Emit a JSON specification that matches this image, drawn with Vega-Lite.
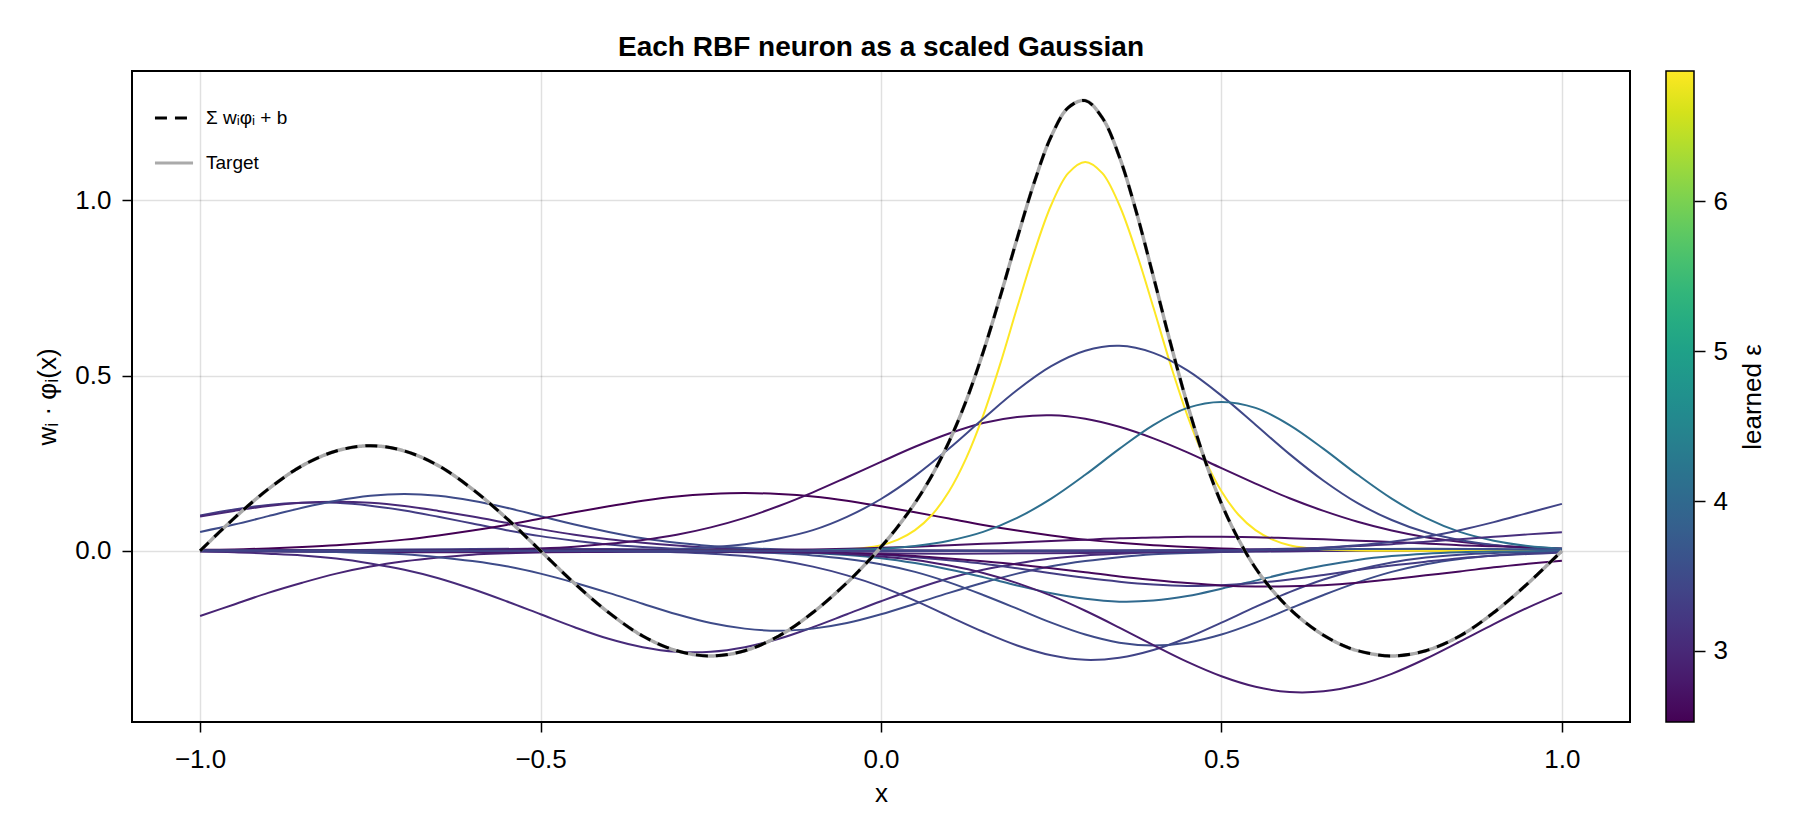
{
"$schema": "https://vega.github.io/schema/vega-lite/v6.json",
"autosize": "none",
"width": 1498,
"height": 651,
"padding": {"left": 132, "top": 71, "right": 170, "bottom": 118},
"background": "white",
"title": {"text": "Each RBF neuron as a scaled Gaussian", "fontSize": 28, "fontWeight": "bold", "anchor": "middle", "frame": "group", "offset": 14, "dy": 27, "baseline": "alphabetic", "color": "black"},
"config": {
"font": "Liberation Sans",
"view": {"stroke": "black", "strokeWidth": 2},
"axis": {"domain": false, "tickColor": "black", "tickSize": 10, "tickWidth": 1.5, "labelFontSize": 26, "labelColor": "black", "titleFontSize": 26, "titleFontWeight": "normal", "titleColor": "black", "grid": true, "gridColor": "black", "gridOpacity": 0.12, "gridWidth": 1.5},
"axisX": {"labelPadding": 14, "titlePadding": 8},
"axisY": {"labelPadding": 11, "titlePadding": 14}
},
"datasets": {
"neurons": [
{"n":9,"e":2.95,"x":-1,"y":-0.186},{"n":9,"e":2.95,"x":-0.95,"y":-0.153},{"n":9,"e":2.95,"x":-0.9,"y":-0.12},{"n":9,"e":2.95,"x":-0.85,"y":-0.091},{"n":9,"e":2.95,"x":-0.8,"y":-0.065},{"n":9,"e":2.95,"x":-0.75,"y":-0.045},{"n":9,"e":2.95,"x":-0.7,"y":-0.03},{"n":9,"e":2.95,"x":-0.65,"y":-0.019},{"n":9,"e":2.95,"x":-0.6,"y":-0.011},{"n":9,"e":2.95,"x":-0.55,"y":-0.007},{"n":9,"e":2.95,"x":-0.5,"y":-0.004},{"n":9,"e":2.95,"x":-0.45,"y":-0.002},{"n":9,"e":2.95,"x":-0.4,"y":-0.001},{"n":9,"e":2.95,"x":-0.35,"y":0},{"n":9,"e":2.95,"x":1,"y":0},
{"n":8,"e":3.3,"x":-1,"y":0.101},{"n":8,"e":3.3,"x":-0.95,"y":0.118},{"n":8,"e":3.3,"x":-0.9,"y":0.131},{"n":8,"e":3.3,"x":-0.85,"y":0.137},{"n":8,"e":3.3,"x":-0.8,"y":0.137},{"n":8,"e":3.3,"x":-0.75,"y":0.129},{"n":8,"e":3.3,"x":-0.7,"y":0.115},{"n":8,"e":3.3,"x":-0.65,"y":0.097},{"n":8,"e":3.3,"x":-0.6,"y":0.078},{"n":8,"e":3.3,"x":-0.55,"y":0.059},{"n":8,"e":3.3,"x":-0.5,"y":0.042},{"n":8,"e":3.3,"x":-0.45,"y":0.029},{"n":8,"e":3.3,"x":-0.4,"y":0.018},{"n":8,"e":3.3,"x":-0.35,"y":0.011},{"n":8,"e":3.3,"x":-0.3,"y":0.006},{"n":8,"e":3.3,"x":-0.25,"y":0.004},{"n":8,"e":3.3,"x":-0.2,"y":0.002},{"n":8,"e":3.3,"x":-0.15,"y":0.001},{"n":8,"e":3.3,"x":-0.1,"y":0},{"n":8,"e":3.3,"x":1,"y":0},
{"n":7,"e":3.0,"x":-1,"y":0.098},{"n":7,"e":3.0,"x":-0.95,"y":0.114},{"n":7,"e":3.0,"x":-0.9,"y":0.128},{"n":7,"e":3.0,"x":-0.85,"y":0.137},{"n":7,"e":3.0,"x":-0.8,"y":0.14},{"n":7,"e":3.0,"x":-0.75,"y":0.137},{"n":7,"e":3.0,"x":-0.7,"y":0.128},{"n":7,"e":3.0,"x":-0.65,"y":0.114},{"n":7,"e":3.0,"x":-0.6,"y":0.098},{"n":7,"e":3.0,"x":-0.55,"y":0.08},{"n":7,"e":3.0,"x":-0.5,"y":0.062},{"n":7,"e":3.0,"x":-0.45,"y":0.046},{"n":7,"e":3.0,"x":-0.4,"y":0.033},{"n":7,"e":3.0,"x":-0.35,"y":0.023},{"n":7,"e":3.0,"x":-0.3,"y":0.015},{"n":7,"e":3.0,"x":-0.25,"y":0.009},{"n":7,"e":3.0,"x":-0.2,"y":0.005},{"n":7,"e":3.0,"x":-0.15,"y":0.003},{"n":7,"e":3.0,"x":-0.1,"y":0.002},{"n":7,"e":3.0,"x":-0.05,"y":0.001},{"n":7,"e":3.0,"x":0,"y":0},{"n":7,"e":3.0,"x":1,"y":0},
{"n":6,"e":3.5,"x":-1,"y":0.054},{"n":6,"e":3.5,"x":-0.95,"y":0.075},{"n":6,"e":3.5,"x":-0.9,"y":0.099},{"n":6,"e":3.5,"x":-0.85,"y":0.123},{"n":6,"e":3.5,"x":-0.8,"y":0.143},{"n":6,"e":3.5,"x":-0.75,"y":0.157},{"n":6,"e":3.5,"x":-0.7,"y":0.162},{"n":6,"e":3.5,"x":-0.65,"y":0.157},{"n":6,"e":3.5,"x":-0.6,"y":0.143},{"n":6,"e":3.5,"x":-0.55,"y":0.123},{"n":6,"e":3.5,"x":-0.5,"y":0.099},{"n":6,"e":3.5,"x":-0.45,"y":0.075},{"n":6,"e":3.5,"x":-0.4,"y":0.054},{"n":6,"e":3.5,"x":-0.35,"y":0.036},{"n":6,"e":3.5,"x":-0.3,"y":0.023},{"n":6,"e":3.5,"x":-0.25,"y":0.014},{"n":6,"e":3.5,"x":-0.2,"y":0.008},{"n":6,"e":3.5,"x":-0.15,"y":0.004},{"n":6,"e":3.5,"x":-0.1,"y":0.002},{"n":6,"e":3.5,"x":-0.05,"y":0.001},{"n":6,"e":3.5,"x":0,"y":0},{"n":6,"e":3.5,"x":1,"y":0},
{"n":24,"e":2.8,"x":-1,"y":-0.001},{"n":24,"e":2.8,"x":-0.9,"y":-0.002},{"n":24,"e":2.8,"x":-0.8,"y":-0.003},{"n":24,"e":2.8,"x":-0.7,"y":-0.004},{"n":24,"e":2.8,"x":-0.6,"y":-0.004},{"n":24,"e":2.8,"x":-0.5,"y":-0.004},{"n":24,"e":2.8,"x":-0.4,"y":-0.003},{"n":24,"e":2.8,"x":-0.3,"y":-0.002},{"n":24,"e":2.8,"x":-0.2,"y":-0.001},{"n":24,"e":2.8,"x":-0.1,"y":0},{"n":24,"e":2.8,"x":1,"y":0},
{"n":21,"e":3.3,"x":-1,"y":0},{"n":21,"e":3.3,"x":-0.9,"y":0.001},{"n":21,"e":3.3,"x":-0.8,"y":0.002},{"n":21,"e":3.3,"x":-0.7,"y":0.004},{"n":21,"e":3.3,"x":-0.6,"y":0.005},{"n":21,"e":3.3,"x":-0.5,"y":0.006},{"n":21,"e":3.3,"x":-0.4,"y":0.005},{"n":21,"e":3.3,"x":-0.3,"y":0.004},{"n":21,"e":3.3,"x":-0.2,"y":0.002},{"n":21,"e":3.3,"x":-0.1,"y":0.001},{"n":21,"e":3.3,"x":0,"y":0},{"n":21,"e":3.3,"x":1,"y":0},
{"n":10,"e":3.05,"x":-1,"y":-0.002},{"n":10,"e":3.05,"x":-0.95,"y":-0.004},{"n":10,"e":3.05,"x":-0.9,"y":-0.008},{"n":10,"e":3.05,"x":-0.85,"y":-0.013},{"n":10,"e":3.05,"x":-0.8,"y":-0.022},{"n":10,"e":3.05,"x":-0.75,"y":-0.036},{"n":10,"e":3.05,"x":-0.7,"y":-0.054},{"n":10,"e":3.05,"x":-0.65,"y":-0.078},{"n":10,"e":3.05,"x":-0.6,"y":-0.109},{"n":10,"e":3.05,"x":-0.55,"y":-0.144},{"n":10,"e":3.05,"x":-0.5,"y":-0.181},{"n":10,"e":3.05,"x":-0.45,"y":-0.218},{"n":10,"e":3.05,"x":-0.4,"y":-0.251},{"n":10,"e":3.05,"x":-0.35,"y":-0.275},{"n":10,"e":3.05,"x":-0.3,"y":-0.288},{"n":10,"e":3.05,"x":-0.25,"y":-0.288},{"n":10,"e":3.05,"x":-0.2,"y":-0.275},{"n":10,"e":3.05,"x":-0.15,"y":-0.251},{"n":10,"e":3.05,"x":-0.1,"y":-0.218},{"n":10,"e":3.05,"x":-0.05,"y":-0.181},{"n":10,"e":3.05,"x":0,"y":-0.144},{"n":10,"e":3.05,"x":0.05,"y":-0.109},{"n":10,"e":3.05,"x":0.1,"y":-0.078},{"n":10,"e":3.05,"x":0.15,"y":-0.054},{"n":10,"e":3.05,"x":0.2,"y":-0.036},{"n":10,"e":3.05,"x":0.25,"y":-0.022},{"n":10,"e":3.05,"x":0.3,"y":-0.013},{"n":10,"e":3.05,"x":0.35,"y":-0.008},{"n":10,"e":3.05,"x":0.4,"y":-0.004},{"n":10,"e":3.05,"x":0.45,"y":-0.002},{"n":10,"e":3.05,"x":0.5,"y":-0.001},{"n":10,"e":3.05,"x":0.55,"y":0},{"n":10,"e":3.05,"x":1,"y":0},
{"n":5,"e":2.526,"x":-1,"y":0.003},{"n":5,"e":2.526,"x":-0.95,"y":0.004},{"n":5,"e":2.526,"x":-0.9,"y":0.007},{"n":5,"e":2.526,"x":-0.85,"y":0.011},{"n":5,"e":2.526,"x":-0.8,"y":0.016},{"n":5,"e":2.526,"x":-0.75,"y":0.023},{"n":5,"e":2.526,"x":-0.7,"y":0.032},{"n":5,"e":2.526,"x":-0.65,"y":0.044},{"n":5,"e":2.526,"x":-0.6,"y":0.058},{"n":5,"e":2.526,"x":-0.55,"y":0.074},{"n":5,"e":2.526,"x":-0.5,"y":0.092},{"n":5,"e":2.526,"x":-0.45,"y":0.11},{"n":5,"e":2.526,"x":-0.4,"y":0.127},{"n":5,"e":2.526,"x":-0.35,"y":0.143},{"n":5,"e":2.526,"x":-0.3,"y":0.155},{"n":5,"e":2.526,"x":-0.25,"y":0.162},{"n":5,"e":2.526,"x":-0.2,"y":0.165},{"n":5,"e":2.526,"x":-0.15,"y":0.162},{"n":5,"e":2.526,"x":-0.1,"y":0.155},{"n":5,"e":2.526,"x":-0.05,"y":0.143},{"n":5,"e":2.526,"x":0,"y":0.127},{"n":5,"e":2.526,"x":0.05,"y":0.11},{"n":5,"e":2.526,"x":0.1,"y":0.092},{"n":5,"e":2.526,"x":0.15,"y":0.074},{"n":5,"e":2.526,"x":0.2,"y":0.058},{"n":5,"e":2.526,"x":0.25,"y":0.044},{"n":5,"e":2.526,"x":0.3,"y":0.032},{"n":5,"e":2.526,"x":0.35,"y":0.023},{"n":5,"e":2.526,"x":0.4,"y":0.016},{"n":5,"e":2.526,"x":0.45,"y":0.011},{"n":5,"e":2.526,"x":0.5,"y":0.007},{"n":5,"e":2.526,"x":0.55,"y":0.004},{"n":5,"e":2.526,"x":0.6,"y":0.003},{"n":5,"e":2.526,"x":0.65,"y":0.002},{"n":5,"e":2.526,"x":0.7,"y":0.001},{"n":5,"e":2.526,"x":0.75,"y":0},{"n":5,"e":2.526,"x":1,"y":0},
{"n":11,"e":3.5,"x":-1,"y":0},{"n":11,"e":3.5,"x":-0.9,"y":-0.001},{"n":11,"e":3.5,"x":-0.85,"y":-0.002},{"n":11,"e":3.5,"x":-0.8,"y":-0.003},{"n":11,"e":3.5,"x":-0.75,"y":-0.006},{"n":11,"e":3.5,"x":-0.7,"y":-0.01},{"n":11,"e":3.5,"x":-0.65,"y":-0.018},{"n":11,"e":3.5,"x":-0.6,"y":-0.029},{"n":11,"e":3.5,"x":-0.55,"y":-0.044},{"n":11,"e":3.5,"x":-0.5,"y":-0.065},{"n":11,"e":3.5,"x":-0.45,"y":-0.091},{"n":11,"e":3.5,"x":-0.4,"y":-0.12},{"n":11,"e":3.5,"x":-0.35,"y":-0.151},{"n":11,"e":3.5,"x":-0.3,"y":-0.181},{"n":11,"e":3.5,"x":-0.25,"y":-0.206},{"n":11,"e":3.5,"x":-0.2,"y":-0.222},{"n":11,"e":3.5,"x":-0.15,"y":-0.228},{"n":11,"e":3.5,"x":-0.1,"y":-0.222},{"n":11,"e":3.5,"x":-0.05,"y":-0.206},{"n":11,"e":3.5,"x":0,"y":-0.181},{"n":11,"e":3.5,"x":0.05,"y":-0.151},{"n":11,"e":3.5,"x":0.1,"y":-0.12},{"n":11,"e":3.5,"x":0.15,"y":-0.091},{"n":11,"e":3.5,"x":0.2,"y":-0.065},{"n":11,"e":3.5,"x":0.25,"y":-0.044},{"n":11,"e":3.5,"x":0.3,"y":-0.029},{"n":11,"e":3.5,"x":0.35,"y":-0.018},{"n":11,"e":3.5,"x":0.4,"y":-0.01},{"n":11,"e":3.5,"x":0.45,"y":-0.006},{"n":11,"e":3.5,"x":0.5,"y":-0.003},{"n":11,"e":3.5,"x":0.55,"y":-0.002},{"n":11,"e":3.5,"x":0.6,"y":-0.001},{"n":11,"e":3.5,"x":0.7,"y":0},{"n":11,"e":3.5,"x":1,"y":0},
{"n":22,"e":3.0,"x":-1,"y":0},{"n":22,"e":3.0,"x":-0.4,"y":-0.001},{"n":22,"e":3.0,"x":-0.3,"y":-0.002},{"n":22,"e":3.0,"x":-0.2,"y":-0.004},{"n":22,"e":3.0,"x":-0.1,"y":-0.006},{"n":22,"e":3.0,"x":0,"y":-0.007},{"n":22,"e":3.0,"x":0.1,"y":-0.008},{"n":22,"e":3.0,"x":0.2,"y":-0.007},{"n":22,"e":3.0,"x":0.3,"y":-0.006},{"n":22,"e":3.0,"x":0.4,"y":-0.004},{"n":22,"e":3.0,"x":0.5,"y":-0.002},{"n":22,"e":3.0,"x":0.6,"y":-0.001},{"n":22,"e":3.0,"x":0.7,"y":0},{"n":22,"e":3.0,"x":1,"y":0},
{"n":4,"e":2.7,"x":-1,"y":0},{"n":4,"e":2.7,"x":-0.8,"y":0},{"n":4,"e":2.7,"x":-0.7,"y":0.001},{"n":4,"e":2.7,"x":-0.65,"y":0.001},{"n":4,"e":2.7,"x":-0.6,"y":0.002},{"n":4,"e":2.7,"x":-0.55,"y":0.004},{"n":4,"e":2.7,"x":-0.5,"y":0.007},{"n":4,"e":2.7,"x":-0.45,"y":0.012},{"n":4,"e":2.7,"x":-0.4,"y":0.02},{"n":4,"e":2.7,"x":-0.35,"y":0.031},{"n":4,"e":2.7,"x":-0.3,"y":0.046},{"n":4,"e":2.7,"x":-0.25,"y":0.067},{"n":4,"e":2.7,"x":-0.2,"y":0.094},{"n":4,"e":2.7,"x":-0.15,"y":0.128},{"n":4,"e":2.7,"x":-0.1,"y":0.167},{"n":4,"e":2.7,"x":-0.05,"y":0.21},{"n":4,"e":2.7,"x":0,"y":0.254},{"n":4,"e":2.7,"x":0.05,"y":0.297},{"n":4,"e":2.7,"x":0.1,"y":0.335},{"n":4,"e":2.7,"x":0.15,"y":0.365},{"n":4,"e":2.7,"x":0.2,"y":0.382},{"n":4,"e":2.7,"x":0.25,"y":0.387},{"n":4,"e":2.7,"x":0.3,"y":0.377},{"n":4,"e":2.7,"x":0.35,"y":0.354},{"n":4,"e":2.7,"x":0.4,"y":0.321},{"n":4,"e":2.7,"x":0.45,"y":0.281},{"n":4,"e":2.7,"x":0.5,"y":0.236},{"n":4,"e":2.7,"x":0.55,"y":0.192},{"n":4,"e":2.7,"x":0.6,"y":0.15},{"n":4,"e":2.7,"x":0.65,"y":0.114},{"n":4,"e":2.7,"x":0.7,"y":0.083},{"n":4,"e":2.7,"x":0.75,"y":0.058},{"n":4,"e":2.7,"x":0.8,"y":0.039},{"n":4,"e":2.7,"x":0.85,"y":0.026},{"n":4,"e":2.7,"x":0.9,"y":0.016},{"n":4,"e":2.7,"x":0.95,"y":0.01},{"n":4,"e":2.7,"x":1,"y":0.006},
{"n":1,"e":6.871,"x":-1,"y":0},{"n":1,"e":6.871,"x":-0.15,"y":0},{"n":1,"e":6.871,"x":-0.1,"y":0.001},{"n":1,"e":6.871,"x":-0.05,"y":0.004},{"n":1,"e":6.871,"x":-0.025,"y":0.008},{"n":1,"e":6.871,"x":0,"y":0.016},{"n":1,"e":6.871,"x":0.025,"y":0.032},{"n":1,"e":6.871,"x":0.05,"y":0.059},{"n":1,"e":6.871,"x":0.075,"y":0.103},{"n":1,"e":6.871,"x":0.1,"y":0.17},{"n":1,"e":6.871,"x":0.125,"y":0.264},{"n":1,"e":6.871,"x":0.15,"y":0.386},{"n":1,"e":6.871,"x":0.175,"y":0.533},{"n":1,"e":6.871,"x":0.2,"y":0.695},{"n":1,"e":6.871,"x":0.225,"y":0.852},{"n":1,"e":6.871,"x":0.25,"y":0.987},{"n":1,"e":6.871,"x":0.275,"y":1.078},{"n":1,"e":6.871,"x":0.3,"y":1.11},{"n":1,"e":6.871,"x":0.325,"y":1.078},{"n":1,"e":6.871,"x":0.35,"y":0.987},{"n":1,"e":6.871,"x":0.375,"y":0.852},{"n":1,"e":6.871,"x":0.4,"y":0.695},{"n":1,"e":6.871,"x":0.425,"y":0.533},{"n":1,"e":6.871,"x":0.45,"y":0.386},{"n":1,"e":6.871,"x":0.475,"y":0.264},{"n":1,"e":6.871,"x":0.5,"y":0.17},{"n":1,"e":6.871,"x":0.525,"y":0.103},{"n":1,"e":6.871,"x":0.55,"y":0.059},{"n":1,"e":6.871,"x":0.575,"y":0.032},{"n":1,"e":6.871,"x":0.6,"y":0.016},{"n":1,"e":6.871,"x":0.625,"y":0.008},{"n":1,"e":6.871,"x":0.65,"y":0.004},{"n":1,"e":6.871,"x":0.7,"y":0.001},{"n":1,"e":6.871,"x":0.75,"y":0},{"n":1,"e":6.871,"x":1,"y":0},
{"n":13,"e":3.4,"x":-1,"y":0},{"n":13,"e":3.4,"x":-0.45,"y":0},{"n":13,"e":3.4,"x":-0.4,"y":-0.001},{"n":13,"e":3.4,"x":-0.35,"y":-0.002},{"n":13,"e":3.4,"x":-0.3,"y":-0.004},{"n":13,"e":3.4,"x":-0.25,"y":-0.008},{"n":13,"e":3.4,"x":-0.2,"y":-0.015},{"n":13,"e":3.4,"x":-0.15,"y":-0.027},{"n":13,"e":3.4,"x":-0.1,"y":-0.045},{"n":13,"e":3.4,"x":-0.05,"y":-0.07},{"n":13,"e":3.4,"x":0,"y":-0.102},{"n":13,"e":3.4,"x":0.05,"y":-0.142},{"n":13,"e":3.4,"x":0.1,"y":-0.187},{"n":13,"e":3.4,"x":0.15,"y":-0.231},{"n":13,"e":3.4,"x":0.2,"y":-0.27},{"n":13,"e":3.4,"x":0.25,"y":-0.298},{"n":13,"e":3.4,"x":0.3,"y":-0.311},{"n":13,"e":3.4,"x":0.35,"y":-0.305},{"n":13,"e":3.4,"x":0.4,"y":-0.283},{"n":13,"e":3.4,"x":0.45,"y":-0.248},{"n":13,"e":3.4,"x":0.5,"y":-0.205},{"n":13,"e":3.4,"x":0.55,"y":-0.16},{"n":13,"e":3.4,"x":0.6,"y":-0.118},{"n":13,"e":3.4,"x":0.65,"y":-0.082},{"n":13,"e":3.4,"x":0.7,"y":-0.054},{"n":13,"e":3.4,"x":0.75,"y":-0.033},{"n":13,"e":3.4,"x":0.8,"y":-0.019},{"n":13,"e":3.4,"x":0.85,"y":-0.011},{"n":13,"e":3.4,"x":0.9,"y":-0.006},{"n":13,"e":3.4,"x":0.95,"y":-0.003},{"n":13,"e":3.4,"x":1,"y":-0.001},
{"n":2,"e":3.45,"x":-1,"y":0},{"n":2,"e":3.45,"x":-0.45,"y":0},{"n":2,"e":3.45,"x":-0.4,"y":0.001},{"n":2,"e":3.45,"x":-0.35,"y":0.002},{"n":2,"e":3.45,"x":-0.3,"y":0.005},{"n":2,"e":3.45,"x":-0.25,"y":0.01},{"n":2,"e":3.45,"x":-0.2,"y":0.019},{"n":2,"e":3.45,"x":-0.15,"y":0.035},{"n":2,"e":3.45,"x":-0.1,"y":0.059},{"n":2,"e":3.45,"x":-0.05,"y":0.097},{"n":2,"e":3.45,"x":0,"y":0.148},{"n":2,"e":3.45,"x":0.05,"y":0.214},{"n":2,"e":3.45,"x":0.1,"y":0.292},{"n":2,"e":3.45,"x":0.15,"y":0.377},{"n":2,"e":3.45,"x":0.2,"y":0.459},{"n":2,"e":3.45,"x":0.25,"y":0.527},{"n":2,"e":3.45,"x":0.3,"y":0.571},{"n":2,"e":3.45,"x":0.35,"y":0.585},{"n":2,"e":3.45,"x":0.4,"y":0.565},{"n":2,"e":3.45,"x":0.45,"y":0.515},{"n":2,"e":3.45,"x":0.5,"y":0.443},{"n":2,"e":3.45,"x":0.55,"y":0.36},{"n":2,"e":3.45,"x":0.6,"y":0.276},{"n":2,"e":3.45,"x":0.65,"y":0.2},{"n":2,"e":3.45,"x":0.7,"y":0.136},{"n":2,"e":3.45,"x":0.75,"y":0.088},{"n":2,"e":3.45,"x":0.8,"y":0.053},{"n":2,"e":3.45,"x":0.85,"y":0.031},{"n":2,"e":3.45,"x":0.9,"y":0.017},{"n":2,"e":3.45,"x":0.95,"y":0.008},{"n":2,"e":3.45,"x":1,"y":0.004},
{"n":15,"e":4.0,"x":-1,"y":0},{"n":15,"e":4.0,"x":-0.3,"y":0},{"n":15,"e":4.0,"x":-0.25,"y":-0.001},{"n":15,"e":4.0,"x":-0.2,"y":-0.001},{"n":15,"e":4.0,"x":-0.15,"y":-0.003},{"n":15,"e":4.0,"x":-0.1,"y":-0.006},{"n":15,"e":4.0,"x":-0.05,"y":-0.012},{"n":15,"e":4.0,"x":0,"y":-0.021},{"n":15,"e":4.0,"x":0.05,"y":-0.035},{"n":15,"e":4.0,"x":0.1,"y":-0.053},{"n":15,"e":4.0,"x":0.15,"y":-0.075},{"n":15,"e":4.0,"x":0.2,"y":-0.099},{"n":15,"e":4.0,"x":0.25,"y":-0.121},{"n":15,"e":4.0,"x":0.3,"y":-0.137},{"n":15,"e":4.0,"x":0.35,"y":-0.145},{"n":15,"e":4.0,"x":0.4,"y":-0.142},{"n":15,"e":4.0,"x":0.45,"y":-0.129},{"n":15,"e":4.0,"x":0.5,"y":-0.108},{"n":15,"e":4.0,"x":0.55,"y":-0.085},{"n":15,"e":4.0,"x":0.6,"y":-0.062},{"n":15,"e":4.0,"x":0.65,"y":-0.042},{"n":15,"e":4.0,"x":0.7,"y":-0.026},{"n":15,"e":4.0,"x":0.75,"y":-0.015},{"n":15,"e":4.0,"x":0.8,"y":-0.008},{"n":15,"e":4.0,"x":0.85,"y":-0.004},{"n":15,"e":4.0,"x":0.9,"y":-0.002},{"n":15,"e":4.0,"x":0.95,"y":-0.001},{"n":15,"e":4.0,"x":1,"y":0},
{"n":14,"e":3.5,"x":-1,"y":0},{"n":14,"e":3.5,"x":-0.35,"y":0},{"n":14,"e":3.5,"x":-0.3,"y":-0.001},{"n":14,"e":3.5,"x":-0.25,"y":-0.002},{"n":14,"e":3.5,"x":-0.2,"y":-0.003},{"n":14,"e":3.5,"x":-0.15,"y":-0.007},{"n":14,"e":3.5,"x":-0.1,"y":-0.013},{"n":14,"e":3.5,"x":-0.05,"y":-0.023},{"n":14,"e":3.5,"x":0,"y":-0.038},{"n":14,"e":3.5,"x":0.05,"y":-0.06},{"n":14,"e":3.5,"x":0.1,"y":-0.09},{"n":14,"e":3.5,"x":0.15,"y":-0.126},{"n":14,"e":3.5,"x":0.2,"y":-0.165},{"n":14,"e":3.5,"x":0.25,"y":-0.205},{"n":14,"e":3.5,"x":0.3,"y":-0.239},{"n":14,"e":3.5,"x":0.35,"y":-0.262},{"n":14,"e":3.5,"x":0.4,"y":-0.27},{"n":14,"e":3.5,"x":0.45,"y":-0.262},{"n":14,"e":3.5,"x":0.5,"y":-0.239},{"n":14,"e":3.5,"x":0.55,"y":-0.205},{"n":14,"e":3.5,"x":0.6,"y":-0.165},{"n":14,"e":3.5,"x":0.65,"y":-0.126},{"n":14,"e":3.5,"x":0.7,"y":-0.09},{"n":14,"e":3.5,"x":0.75,"y":-0.06},{"n":14,"e":3.5,"x":0.8,"y":-0.038},{"n":14,"e":3.5,"x":0.85,"y":-0.023},{"n":14,"e":3.5,"x":0.9,"y":-0.013},{"n":14,"e":3.5,"x":0.95,"y":-0.007},{"n":14,"e":3.5,"x":1,"y":-0.003},
{"n":17,"e":3.3,"x":-1,"y":0},{"n":17,"e":3.3,"x":-0.25,"y":0},{"n":17,"e":3.3,"x":-0.2,"y":-0.001},{"n":17,"e":3.3,"x":-0.15,"y":-0.002},{"n":17,"e":3.3,"x":-0.1,"y":-0.004},{"n":17,"e":3.3,"x":-0.05,"y":-0.007},{"n":17,"e":3.3,"x":0,"y":-0.011},{"n":17,"e":3.3,"x":0.05,"y":-0.018},{"n":17,"e":3.3,"x":0.1,"y":-0.027},{"n":17,"e":3.3,"x":0.15,"y":-0.037},{"n":17,"e":3.3,"x":0.2,"y":-0.05},{"n":17,"e":3.3,"x":0.25,"y":-0.064},{"n":17,"e":3.3,"x":0.3,"y":-0.077},{"n":17,"e":3.3,"x":0.35,"y":-0.088},{"n":17,"e":3.3,"x":0.4,"y":-0.096},{"n":17,"e":3.3,"x":0.45,"y":-0.1},{"n":17,"e":3.3,"x":0.5,"y":-0.098},{"n":17,"e":3.3,"x":0.55,"y":-0.092},{"n":17,"e":3.3,"x":0.6,"y":-0.082},{"n":17,"e":3.3,"x":0.65,"y":-0.069},{"n":17,"e":3.3,"x":0.7,"y":-0.055},{"n":17,"e":3.3,"x":0.75,"y":-0.042},{"n":17,"e":3.3,"x":0.8,"y":-0.031},{"n":17,"e":3.3,"x":0.85,"y":-0.021},{"n":17,"e":3.3,"x":0.9,"y":-0.014},{"n":17,"e":3.3,"x":0.95,"y":-0.009},{"n":17,"e":3.3,"x":1,"y":-0.005},
{"n":18,"e":2.7,"x":-1,"y":0},{"n":18,"e":2.7,"x":-0.4,"y":0},{"n":18,"e":2.7,"x":-0.3,"y":0.001},{"n":18,"e":2.7,"x":-0.2,"y":0.002},{"n":18,"e":2.7,"x":-0.15,"y":0.003},{"n":18,"e":2.7,"x":-0.1,"y":0.004},{"n":18,"e":2.7,"x":-0.05,"y":0.006},{"n":18,"e":2.7,"x":0,"y":0.009},{"n":18,"e":2.7,"x":0.05,"y":0.012},{"n":18,"e":2.7,"x":0.1,"y":0.016},{"n":18,"e":2.7,"x":0.15,"y":0.02},{"n":18,"e":2.7,"x":0.2,"y":0.024},{"n":18,"e":2.7,"x":0.25,"y":0.028},{"n":18,"e":2.7,"x":0.3,"y":0.032},{"n":18,"e":2.7,"x":0.35,"y":0.036},{"n":18,"e":2.7,"x":0.4,"y":0.038},{"n":18,"e":2.7,"x":0.45,"y":0.04},{"n":18,"e":2.7,"x":0.5,"y":0.04},{"n":18,"e":2.7,"x":0.55,"y":0.039},{"n":18,"e":2.7,"x":0.6,"y":0.036},{"n":18,"e":2.7,"x":0.65,"y":0.033},{"n":18,"e":2.7,"x":0.7,"y":0.029},{"n":18,"e":2.7,"x":0.75,"y":0.025},{"n":18,"e":2.7,"x":0.8,"y":0.021},{"n":18,"e":2.7,"x":0.85,"y":0.016},{"n":18,"e":2.7,"x":0.9,"y":0.013},{"n":18,"e":2.7,"x":0.95,"y":0.01},{"n":18,"e":2.7,"x":1,"y":0.007},
{"n":3,"e":4.1,"x":-1,"y":0},{"n":3,"e":4.1,"x":-0.15,"y":0},{"n":3,"e":4.1,"x":-0.1,"y":0.001},{"n":3,"e":4.1,"x":-0.05,"y":0.003},{"n":3,"e":4.1,"x":0,"y":0.006},{"n":3,"e":4.1,"x":0.05,"y":0.014},{"n":3,"e":4.1,"x":0.1,"y":0.029},{"n":3,"e":4.1,"x":0.15,"y":0.054},{"n":3,"e":4.1,"x":0.2,"y":0.094},{"n":3,"e":4.1,"x":0.25,"y":0.149},{"n":3,"e":4.1,"x":0.3,"y":0.217},{"n":3,"e":4.1,"x":0.35,"y":0.291},{"n":3,"e":4.1,"x":0.4,"y":0.359},{"n":3,"e":4.1,"x":0.45,"y":0.408},{"n":3,"e":4.1,"x":0.5,"y":0.425},{"n":3,"e":4.1,"x":0.55,"y":0.408},{"n":3,"e":4.1,"x":0.6,"y":0.359},{"n":3,"e":4.1,"x":0.65,"y":0.291},{"n":3,"e":4.1,"x":0.7,"y":0.217},{"n":3,"e":4.1,"x":0.75,"y":0.149},{"n":3,"e":4.1,"x":0.8,"y":0.094},{"n":3,"e":4.1,"x":0.85,"y":0.054},{"n":3,"e":4.1,"x":0.9,"y":0.029},{"n":3,"e":4.1,"x":0.95,"y":0.014},{"n":3,"e":4.1,"x":1,"y":0.006},
{"n":16,"e":2.62,"x":-1,"y":0},{"n":16,"e":2.62,"x":-0.35,"y":0},{"n":16,"e":2.62,"x":-0.3,"y":-0.001},{"n":16,"e":2.62,"x":-0.25,"y":-0.001},{"n":16,"e":2.62,"x":-0.2,"y":-0.002},{"n":16,"e":2.62,"x":-0.15,"y":-0.003},{"n":16,"e":2.62,"x":-0.1,"y":-0.004},{"n":16,"e":2.62,"x":-0.05,"y":-0.007},{"n":16,"e":2.62,"x":0,"y":-0.01},{"n":16,"e":2.62,"x":0.05,"y":-0.015},{"n":16,"e":2.62,"x":0.1,"y":-0.022},{"n":16,"e":2.62,"x":0.15,"y":-0.03},{"n":16,"e":2.62,"x":0.2,"y":-0.039},{"n":16,"e":2.62,"x":0.25,"y":-0.05},{"n":16,"e":2.62,"x":0.3,"y":-0.061},{"n":16,"e":2.62,"x":0.35,"y":-0.073},{"n":16,"e":2.62,"x":0.4,"y":-0.083},{"n":16,"e":2.62,"x":0.45,"y":-0.092},{"n":16,"e":2.62,"x":0.5,"y":-0.099},{"n":16,"e":2.62,"x":0.55,"y":-0.102},{"n":16,"e":2.62,"x":0.6,"y":-0.101},{"n":16,"e":2.62,"x":0.65,"y":-0.098},{"n":16,"e":2.62,"x":0.7,"y":-0.091},{"n":16,"e":2.62,"x":0.75,"y":-0.081},{"n":16,"e":2.62,"x":0.8,"y":-0.07},{"n":16,"e":2.62,"x":0.85,"y":-0.059},{"n":16,"e":2.62,"x":0.9,"y":-0.047},{"n":16,"e":2.62,"x":0.95,"y":-0.037},{"n":16,"e":2.62,"x":1,"y":-0.028},
{"n":12,"e":2.85,"x":-1,"y":0},{"n":12,"e":2.85,"x":-0.3,"y":0},{"n":12,"e":2.85,"x":-0.25,"y":-0.001},{"n":12,"e":2.85,"x":-0.2,"y":-0.001},{"n":12,"e":2.85,"x":-0.15,"y":-0.003},{"n":12,"e":2.85,"x":-0.1,"y":-0.005},{"n":12,"e":2.85,"x":-0.05,"y":-0.009},{"n":12,"e":2.85,"x":0,"y":-0.016},{"n":12,"e":2.85,"x":0.05,"y":-0.026},{"n":12,"e":2.85,"x":0.1,"y":-0.042},{"n":12,"e":2.85,"x":0.15,"y":-0.063},{"n":12,"e":2.85,"x":0.2,"y":-0.092},{"n":12,"e":2.85,"x":0.25,"y":-0.128},{"n":12,"e":2.85,"x":0.3,"y":-0.171},{"n":12,"e":2.85,"x":0.35,"y":-0.219},{"n":12,"e":2.85,"x":0.4,"y":-0.269},{"n":12,"e":2.85,"x":0.45,"y":-0.317},{"n":12,"e":2.85,"x":0.5,"y":-0.358},{"n":12,"e":2.85,"x":0.55,"y":-0.388},{"n":12,"e":2.85,"x":0.6,"y":-0.403},{"n":12,"e":2.85,"x":0.65,"y":-0.401},{"n":12,"e":2.85,"x":0.7,"y":-0.383},{"n":12,"e":2.85,"x":0.75,"y":-0.351},{"n":12,"e":2.85,"x":0.8,"y":-0.308},{"n":12,"e":2.85,"x":0.85,"y":-0.259},{"n":12,"e":2.85,"x":0.9,"y":-0.209},{"n":12,"e":2.85,"x":0.95,"y":-0.162},{"n":12,"e":2.85,"x":1,"y":-0.12},
{"n":23,"e":3.6,"x":-1,"y":0},{"n":23,"e":3.6,"x":0.3,"y":0},{"n":23,"e":3.6,"x":0.4,"y":0.001},{"n":23,"e":3.6,"x":0.5,"y":0.002},{"n":23,"e":3.6,"x":0.6,"y":0.004},{"n":23,"e":3.6,"x":0.7,"y":0.005},{"n":23,"e":3.6,"x":0.8,"y":0.006},{"n":23,"e":3.6,"x":0.9,"y":0.005},{"n":23,"e":3.6,"x":1,"y":0.004},
{"n":20,"e":3.1,"x":-1,"y":0},{"n":20,"e":3.1,"x":0.35,"y":0},{"n":20,"e":3.1,"x":0.4,"y":0.001},{"n":20,"e":3.1,"x":0.45,"y":0.001},{"n":20,"e":3.1,"x":0.5,"y":0.002},{"n":20,"e":3.1,"x":0.55,"y":0.004},{"n":20,"e":3.1,"x":0.6,"y":0.006},{"n":20,"e":3.1,"x":0.65,"y":0.009},{"n":20,"e":3.1,"x":0.7,"y":0.014},{"n":20,"e":3.1,"x":0.75,"y":0.019},{"n":20,"e":3.1,"x":0.8,"y":0.026},{"n":20,"e":3.1,"x":0.85,"y":0.033},{"n":20,"e":3.1,"x":0.9,"y":0.04},{"n":20,"e":3.1,"x":0.95,"y":0.047},{"n":20,"e":3.1,"x":1,"y":0.053},
{"n":19,"e":3.4,"x":-1,"y":0},{"n":19,"e":3.4,"x":0.45,"y":0},{"n":19,"e":3.4,"x":0.5,"y":0.001},{"n":19,"e":3.4,"x":0.55,"y":0.002},{"n":19,"e":3.4,"x":0.6,"y":0.005},{"n":19,"e":3.4,"x":0.65,"y":0.009},{"n":19,"e":3.4,"x":0.7,"y":0.016},{"n":19,"e":3.4,"x":0.75,"y":0.026},{"n":19,"e":3.4,"x":0.8,"y":0.04},{"n":19,"e":3.4,"x":0.85,"y":0.059},{"n":19,"e":3.4,"x":0.9,"y":0.082},{"n":19,"e":3.4,"x":0.95,"y":0.108},{"n":19,"e":3.4,"x":1,"y":0.134}
],
"fit": [
{"s":"Target","x":-1,"y":0},{"s":"Target","x":-0.95,"y":0.093},{"s":"Target","x":-0.9,"y":0.176},{"s":"Target","x":-0.85,"y":0.243},{"s":"Target","x":-0.8,"y":0.285},{"s":"Target","x":-0.75,"y":0.3},{"s":"Target","x":-0.7,"y":0.285},{"s":"Target","x":-0.65,"y":0.243},{"s":"Target","x":-0.6,"y":0.176},{"s":"Target","x":-0.55,"y":0.093},{"s":"Target","x":-0.5,"y":0},{"s":"Target","x":-0.45,"y":-0.093},{"s":"Target","x":-0.4,"y":-0.176},{"s":"Target","x":-0.35,"y":-0.243},{"s":"Target","x":-0.3,"y":-0.285},{"s":"Target","x":-0.25,"y":-0.3},{"s":"Target","x":-0.2,"y":-0.285},{"s":"Target","x":-0.15,"y":-0.243},{"s":"Target","x":-0.1,"y":-0.176},{"s":"Target","x":-0.05,"y":-0.091},{"s":"Target","x":-0.025,"y":-0.042},{"s":"Target","x":0,"y":0.011},{"s":"Target","x":0.025,"y":0.07},{"s":"Target","x":0.05,"y":0.137},{"s":"Target","x":0.075,"y":0.216},{"s":"Target","x":0.1,"y":0.312},{"s":"Target","x":0.125,"y":0.428},{"s":"Target","x":0.15,"y":0.567},{"s":"Target","x":0.175,"y":0.725},{"s":"Target","x":0.2,"y":0.892},{"s":"Target","x":0.225,"y":1.051},{"s":"Target","x":0.25,"y":1.183},{"s":"Target","x":0.275,"y":1.265},{"s":"Target","x":0.3,"y":1.285},{"s":"Target","x":0.325,"y":1.236},{"s":"Target","x":0.35,"y":1.125},{"s":"Target","x":0.375,"y":0.967},{"s":"Target","x":0.4,"y":0.783},{"s":"Target","x":0.425,"y":0.594},{"s":"Target","x":0.45,"y":0.418},{"s":"Target","x":0.475,"y":0.263},{"s":"Target","x":0.5,"y":0.135},{"s":"Target","x":0.525,"y":0.033},{"s":"Target","x":0.55,"y":-0.049},{"s":"Target","x":0.575,"y":-0.113},{"s":"Target","x":0.6,"y":-0.165},{"s":"Target","x":0.625,"y":-0.207},{"s":"Target","x":0.65,"y":-0.241},{"s":"Target","x":0.675,"y":-0.267},{"s":"Target","x":0.7,"y":-0.285},{"s":"Target","x":0.75,"y":-0.3},{"s":"Target","x":0.8,"y":-0.285},{"s":"Target","x":0.85,"y":-0.243},{"s":"Target","x":0.9,"y":-0.176},{"s":"Target","x":0.95,"y":-0.093},{"s":"Target","x":1,"y":0},
{"s":"Σ wᵢφᵢ + b","x":-1,"y":0},{"s":"Σ wᵢφᵢ + b","x":-0.95,"y":0.093},{"s":"Σ wᵢφᵢ + b","x":-0.9,"y":0.176},{"s":"Σ wᵢφᵢ + b","x":-0.85,"y":0.243},{"s":"Σ wᵢφᵢ + b","x":-0.8,"y":0.285},{"s":"Σ wᵢφᵢ + b","x":-0.75,"y":0.3},{"s":"Σ wᵢφᵢ + b","x":-0.7,"y":0.285},{"s":"Σ wᵢφᵢ + b","x":-0.65,"y":0.243},{"s":"Σ wᵢφᵢ + b","x":-0.6,"y":0.176},{"s":"Σ wᵢφᵢ + b","x":-0.55,"y":0.093},{"s":"Σ wᵢφᵢ + b","x":-0.5,"y":0},{"s":"Σ wᵢφᵢ + b","x":-0.45,"y":-0.093},{"s":"Σ wᵢφᵢ + b","x":-0.4,"y":-0.176},{"s":"Σ wᵢφᵢ + b","x":-0.35,"y":-0.243},{"s":"Σ wᵢφᵢ + b","x":-0.3,"y":-0.285},{"s":"Σ wᵢφᵢ + b","x":-0.25,"y":-0.3},{"s":"Σ wᵢφᵢ + b","x":-0.2,"y":-0.285},{"s":"Σ wᵢφᵢ + b","x":-0.15,"y":-0.243},{"s":"Σ wᵢφᵢ + b","x":-0.1,"y":-0.176},{"s":"Σ wᵢφᵢ + b","x":-0.05,"y":-0.091},{"s":"Σ wᵢφᵢ + b","x":-0.025,"y":-0.042},{"s":"Σ wᵢφᵢ + b","x":0,"y":0.011},{"s":"Σ wᵢφᵢ + b","x":0.025,"y":0.07},{"s":"Σ wᵢφᵢ + b","x":0.05,"y":0.137},{"s":"Σ wᵢφᵢ + b","x":0.075,"y":0.216},{"s":"Σ wᵢφᵢ + b","x":0.1,"y":0.312},{"s":"Σ wᵢφᵢ + b","x":0.125,"y":0.428},{"s":"Σ wᵢφᵢ + b","x":0.15,"y":0.567},{"s":"Σ wᵢφᵢ + b","x":0.175,"y":0.725},{"s":"Σ wᵢφᵢ + b","x":0.2,"y":0.892},{"s":"Σ wᵢφᵢ + b","x":0.225,"y":1.051},{"s":"Σ wᵢφᵢ + b","x":0.25,"y":1.183},{"s":"Σ wᵢφᵢ + b","x":0.275,"y":1.265},{"s":"Σ wᵢφᵢ + b","x":0.3,"y":1.285},{"s":"Σ wᵢφᵢ + b","x":0.325,"y":1.236},{"s":"Σ wᵢφᵢ + b","x":0.35,"y":1.125},{"s":"Σ wᵢφᵢ + b","x":0.375,"y":0.967},{"s":"Σ wᵢφᵢ + b","x":0.4,"y":0.783},{"s":"Σ wᵢφᵢ + b","x":0.425,"y":0.594},{"s":"Σ wᵢφᵢ + b","x":0.45,"y":0.418},{"s":"Σ wᵢφᵢ + b","x":0.475,"y":0.263},{"s":"Σ wᵢφᵢ + b","x":0.5,"y":0.135},{"s":"Σ wᵢφᵢ + b","x":0.525,"y":0.033},{"s":"Σ wᵢφᵢ + b","x":0.55,"y":-0.049},{"s":"Σ wᵢφᵢ + b","x":0.575,"y":-0.113},{"s":"Σ wᵢφᵢ + b","x":0.6,"y":-0.165},{"s":"Σ wᵢφᵢ + b","x":0.625,"y":-0.207},{"s":"Σ wᵢφᵢ + b","x":0.65,"y":-0.241},{"s":"Σ wᵢφᵢ + b","x":0.675,"y":-0.267},{"s":"Σ wᵢφᵢ + b","x":0.7,"y":-0.285},{"s":"Σ wᵢφᵢ + b","x":0.75,"y":-0.3},{"s":"Σ wᵢφᵢ + b","x":0.8,"y":-0.285},{"s":"Σ wᵢφᵢ + b","x":0.85,"y":-0.243},{"s":"Σ wᵢφᵢ + b","x":0.9,"y":-0.176},{"s":"Σ wᵢφᵢ + b","x":0.95,"y":-0.093},{"s":"Σ wᵢφᵢ + b","x":1,"y":0}
],
"cbar": [{"lo": 2.526, "hi": 6.871}]
},
"layer": [
{
"layer": [
{
"data": {"name": "neurons"},
"mark": {"type": "line", "interpolate": "catmull-rom", "strokeWidth": 2, "clip": true},
"encoding": {
"x": {"field": "x", "type": "quantitative", "scale": {"domain": [-1.1, 1.1], "nice": false, "zero": false}, "axis": {"values": [-1, -0.5, 0, 0.5, 1], "format": ".1f", "title": "x"}},
"y": {"field": "y", "type": "quantitative", "scale": {"domain": [-0.4885, 1.3695], "nice": false, "zero": false}, "axis": {"values": [0, 0.5, 1], "format": ".1f", "title": "wᵢ · φᵢ(x)"}},
"color": {"field": "e", "type": "quantitative", "scale": {"scheme": "viridis", "domain": [2.526, 6.871], "nice": false, "zero": false},
 "legend": {"orient": "none", "legendX": 1534, "legendY": 0, "direction": "vertical", "gradientLength": 651, "gradientThickness": 28, "gradientStrokeColor": "black", "gradientStrokeWidth": 1.5, "title": null, "labelOpacity": 0, "labelFontSize": 1, "padding": 0}},
"detail": {"field": "n", "type": "nominal"}
}
},
{
"data": {"name": "fit"},
"transform": [{"filter": "datum.s == 'Target'"}],
"mark": {"type": "line", "interpolate": "catmull-rom", "strokeWidth": 3.5},
"encoding": {
"x": {"field": "x", "type": "quantitative"},
"y": {"field": "y", "type": "quantitative"},
"stroke": {"field": "s", "type": "nominal", "scale": {"domain": ["Σ wᵢφᵢ + b", "Target"], "range": ["black", "#aaaaaa"]},
 "legend": {"title": null, "orient": "none", "legendX": 21, "legendY": 26, "symbolType": "stroke", "symbolSize": 1450, "symbolStrokeWidth": 3, "labelFontSize": 19, "labelColor": "black", "labelOffset": 11, "rowPadding": 14, "padding": 0}},
"strokeDash": {"field": "s", "type": "nominal", "scale": {"domain": ["Σ wᵢφᵢ + b", "Target"], "range": [[12, 8], [1, 0]]},
 "legend": {"title": null, "orient": "none", "legendX": 21, "legendY": 26, "symbolType": "stroke", "symbolSize": 1450, "symbolStrokeWidth": 3, "labelFontSize": 19, "labelColor": "black", "labelOffset": 11, "rowPadding": 14, "padding": 0}}
}
},
{
"data": {"name": "fit"},
"transform": [{"filter": "datum.s != 'Target'"}],
"mark": {"type": "line", "interpolate": "catmull-rom", "strokeWidth": 3},
"encoding": {
"x": {"field": "x", "type": "quantitative"},
"y": {"field": "y", "type": "quantitative"},
"stroke": {"field": "s", "type": "nominal"},
"strokeDash": {"field": "s", "type": "nominal"}
}
}
]
},
{
"data": {"name": "cbar"},
"mark": {"type": "rule", "strokeOpacity": 0},
"encoding": {
"y": {"field": "lo", "type": "quantitative", "scale": {"domain": [2.526, 6.871], "nice": false, "zero": false}, "axis": {"orient": "right", "offset": 64, "values": [3, 4, 5, 6], "format": "d", "title": "learned ε", "titleAngle": 270, "titleBaseline": "top", "grid": false, "tickSize": 11, "labelPadding": 8, "titlePadding": 12}}
}
}
],
"resolve": {"scale": {"y": "independent"}}
}
